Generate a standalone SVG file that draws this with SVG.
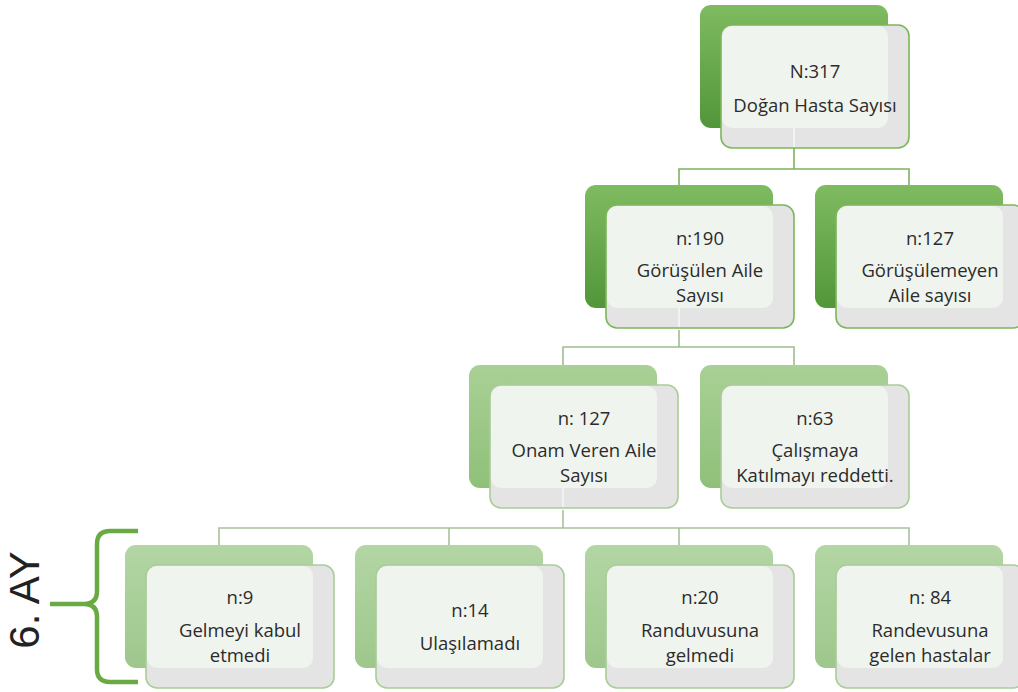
<svg xmlns="http://www.w3.org/2000/svg" width="1018" height="692" viewBox="0 0 1018 692">
<defs>
<linearGradient id="gDark" x1="0" y1="0" x2="0" y2="1">
<stop offset="0" stop-color="#7fbb60"/>
<stop offset="1" stop-color="#52963a"/>
</linearGradient>
<linearGradient id="gLight" x1="0" y1="0" x2="0" y2="1">
<stop offset="0" stop-color="#a9d096"/>
<stop offset="1" stop-color="#8fc079"/>
</linearGradient>
<linearGradient id="gPale" x1="0" y1="0" x2="0" y2="1">
<stop offset="0" stop-color="#b3d6a4"/>
<stop offset="1" stop-color="#9ec78c"/>
</linearGradient>
</defs>
<style>
.back{stroke:none}
.d .back{fill:url(#gDark)}
.l .back{fill:url(#gLight)}
.p .back{fill:url(#gPale)}
.front{fill:#e4e4e4;stroke-width:1.6}
.d .front{stroke:#7cb65a}
.l .front,.p .front{stroke:#a8cd96}
.ov{fill:#f0f4ee;stroke:none}
text{font-family:"Open Sans",Lato,sans-serif;font-size:18.5px;fill:#2b2b2b;text-anchor:middle}
.c{fill:none;stroke-width:1.6}
.c1{stroke:#7db35e}
.c2{stroke:#9ebd8f}
.c3{stroke:#a8c29d}
.ghost{fill:none;stroke:#f6f6f6;stroke-width:1.6}
.brace{fill:none;stroke:#6aaa44;stroke-width:4.5;stroke-linecap:butt}
.side{font-family:"Liberation Sans",Arial,sans-serif;font-size:42px;fill:#222;text-anchor:middle}
</style>

<g id="connectors">
<path class="c c1" d="M794,148 V169 M679,186 V169 H909 V186"/>
<path class="c c2" d="M679,330 V347 H563 V365 M679,347 H794 V365"/>
<path class="c c3" d="M563,510 V528 M219,545 V528 H909 V545 M449,528 V545 M679,528 V545"/>
</g>

<g id="n317" class="d">
<rect class="back" x="700" y="5" width="188" height="123" rx="11"/>
<rect class="front" x="721" y="25" width="188" height="123" rx="11"/>
<rect class="ov" x="722" y="26" width="166" height="102" rx="10"/>
<path class="ghost" d="M794,128 V147"/>
<text x="815" y="78">N:317</text>
<text x="815" y="112">Doğan Hasta Sayısı</text>
</g>

<g id="n190" class="d">
<rect class="back" x="585" y="185" width="188" height="123" rx="11"/>
<rect class="front" x="606" y="205" width="188" height="123" rx="11"/>
<rect class="ov" x="607" y="206" width="166" height="102" rx="10"/>
<path class="ghost" d="M679,308 V327"/>
<text x="700" y="245">n:190</text>
<text x="700" y="277">Görüşülen Aile</text>
<text x="700" y="302">Sayısı</text>
</g>

<g id="n127" class="d">
<rect class="back" x="815" y="185" width="188" height="123" rx="11"/>
<rect class="front" x="836" y="205" width="188" height="123" rx="11"/>
<rect class="ov" x="837" y="206" width="166" height="102" rx="10"/>
<text x="930" y="245">n:127</text>
<text x="930" y="277">Görüşülemeyen</text>
<text x="930" y="302">Aile sayısı</text>
</g>

<g id="onam" class="l">
<rect class="back" x="469" y="365" width="188" height="123" rx="11"/>
<rect class="front" x="490" y="385" width="188" height="123" rx="11"/>
<rect class="ov" x="491" y="386" width="166" height="102" rx="10"/>
<path class="ghost" d="M563,488 V507"/>
<text x="584" y="425">n: 127</text>
<text x="584" y="457">Onam Veren  Aile</text>
<text x="584" y="482">Sayısı</text>
</g>

<g id="n63" class="l">
<rect class="back" x="700" y="365" width="188" height="123" rx="11"/>
<rect class="front" x="721" y="385" width="188" height="123" rx="11"/>
<rect class="ov" x="722" y="386" width="166" height="102" rx="10"/>
<text x="815" y="425">n:63</text>
<text x="815" y="457">Çalışmaya</text>
<text x="815" y="482">Katılmayı reddetti.</text>
</g>

<g id="n9" class="p">
<rect class="back" x="125" y="545" width="188" height="123" rx="11"/>
<rect class="front" x="146" y="565" width="188" height="123" rx="11"/>
<rect class="ov" x="147" y="566" width="166" height="102" rx="10"/>
<text x="240" y="604">n:9</text>
<text x="240" y="637">Gelmeyi kabul</text>
<text x="240" y="662">etmedi</text>
</g>

<g id="n14" class="p">
<rect class="back" x="355" y="545" width="188" height="123" rx="11"/>
<rect class="front" x="376" y="565" width="188" height="123" rx="11"/>
<rect class="ov" x="377" y="566" width="166" height="102" rx="10"/>
<text x="470" y="617">n:14</text>
<text x="470" y="650">Ulaşılamadı</text>
</g>

<g id="n20" class="p">
<rect class="back" x="585" y="545" width="188" height="123" rx="11"/>
<rect class="front" x="606" y="565" width="188" height="123" rx="11"/>
<rect class="ov" x="607" y="566" width="166" height="102" rx="10"/>
<text x="700" y="604">n:20</text>
<text x="700" y="637">Randuvusuna</text>
<text x="700" y="662">gelmedi</text>
</g>

<g id="n84" class="p">
<rect class="back" x="815" y="545" width="188" height="123" rx="11"/>
<rect class="front" x="836" y="565" width="188" height="123" rx="11"/>
<rect class="ov" x="837" y="566" width="166" height="102" rx="10"/>
<text x="930" y="604">n: 84</text>
<text x="930" y="637">Randevusuna</text>
<text x="930" y="662">gelen hastalar</text>
</g>

<g id="bracket">
<path class="brace" d="M138,531 H110 Q97,531 97,544 V591 Q97,604 84,604 H50 M84,604 Q97,604 97,617 V669 Q97,682 110,682 H138"/>
<text class="side" transform="translate(39,600) rotate(-90)" x="0" y="0">6. AY</text>
</g>
</svg>
